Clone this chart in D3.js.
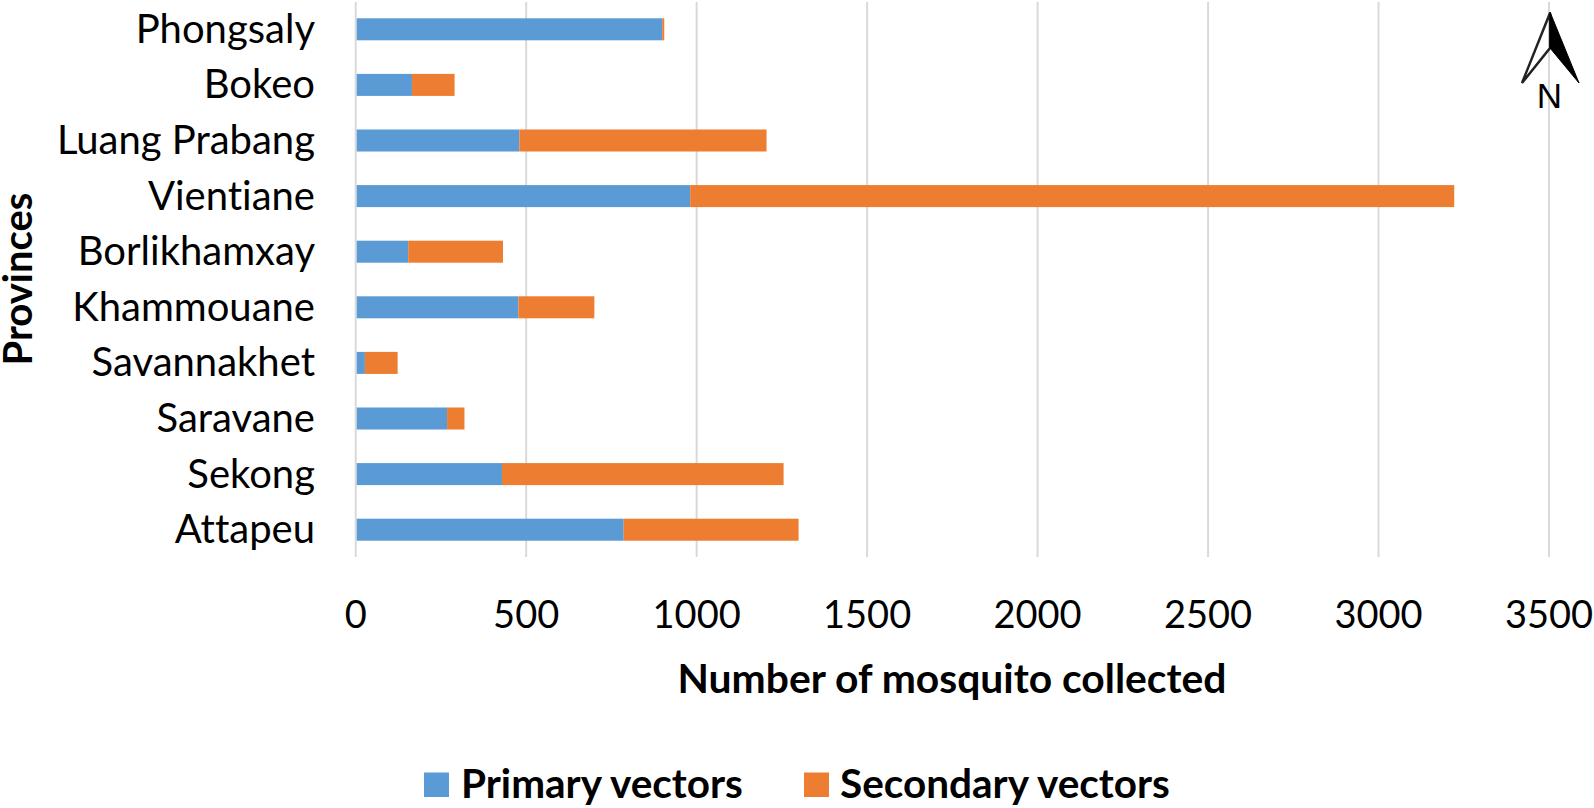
<!DOCTYPE html>
<html><head><meta charset="utf-8">
<script src="https://cdn.jsdelivr.net/npm/d3@7/dist/d3.min.js"></script>
<style>html,body{margin:0;padding:0;background:#fff}svg{display:block}text{font-family:Lato,sans-serif;fill:#000;font-variant-ligatures:none}</style>
</head><body><svg id="c" width="1594" height="808"></svg>
<script>
const provinces=["Phongsaly","Bokeo","Luang Prabang","Vientiane","Borlikhamxay","Khammouane","Savannakhet","Saravane","Sekong","Attapeu"];
const primaryVectors=[899,165,480,981,154,477,27,268,429,786];
const secondaryVectors=[6,125,725,2241,278,223,96,51,826,513];
const seriesNames=["Primary vectors","Secondary vectors"];
const seriesColors=["#5b9bd5","#ed7d31"];
const xTicks=[0,500,1000,1500,2000,2500,3000,3500];
const svg=d3.select("#c");
const x=d3.scaleLinear().domain([0,3500]).range([355.7,1549]);
const y=d3.scaleBand().domain(provinces).range([1.5,557.5]).paddingInner(0.604).paddingOuter(0.302);
svg.append("g").selectAll("line").data(xTicks).join("line")
 .attr("x1",d=>x(d)).attr("x2",d=>x(d)).attr("y1",2).attr("y2",557)
 .attr("stroke","#d9d9d9").attr("stroke-width",2);
const stack=d3.stack().keys([0,1]).value((d,k)=>[primaryVectors,secondaryVectors][k][d])(d3.range(provinces.length));
svg.append("g").selectAll("g").data(stack).join("g").attr("fill",(d,i)=>seriesColors[i])
 .selectAll("rect").data(d=>d.map((v,i)=>({v,i}))).join("rect")
 .attr("x",d=>x(d.v[0])+(d.v[0]===0?1:0)).attr("y",d=>y(provinces[d.i]))
 .attr("width",d=>x(d.v[1])-x(d.v[0])-(d.v[0]===0?1:0)).attr("height",y.bandwidth());
svg.append("g").selectAll("text").data(provinces).join("text")
 .attr("x",315).attr("y",d=>y(d)+y.bandwidth()/2+13.5).attr("text-anchor","end").attr("font-size",40).text(d=>d);
svg.append("g").selectAll("text").data(xTicks).join("text")
 .attr("x",d=>x(d)).attr("y",628).attr("text-anchor","middle").attr("font-size",38).text(d=>d);
svg.append("text").attr("x",952).attr("y",693).attr("text-anchor","middle").attr("font-size",40.8).attr("font-weight",700).text("Number of mosquito collected");
svg.append("text").attr("transform","translate(32,279) rotate(-90)").attr("text-anchor","middle").attr("font-size",40).attr("font-weight",700).text("Provinces");
const lx=[424,804],tx=[461,840];
svg.append("g").selectAll("rect").data(seriesNames).join("rect").attr("x",(d,i)=>lx[i]).attr("y",772.5).attr("width",25).attr("height",24.5).attr("fill",(d,i)=>seriesColors[i]);
svg.append("g").selectAll("text").data(seriesNames).join("text").attr("x",(d,i)=>tx[i]).attr("y",798).attr("font-size",40.5).attr("font-weight",700).text(d=>d);
const n=svg.append("g");
n.append("path").attr("d","M1550 13 L1522 83 L1550 48 Z").attr("fill","#fff").attr("stroke","#222").attr("stroke-width",2.5);
n.append("path").attr("d","M1550 12 L1579 83 L1550 48 Z").attr("fill","#000").attr("stroke","#000").attr("stroke-width",1);
n.append("text").attr("x",1549.5).attr("y",108).attr("text-anchor","middle").attr("font-size",35).style("font-family","Liberation Sans").text("N");
</script></body></html>
